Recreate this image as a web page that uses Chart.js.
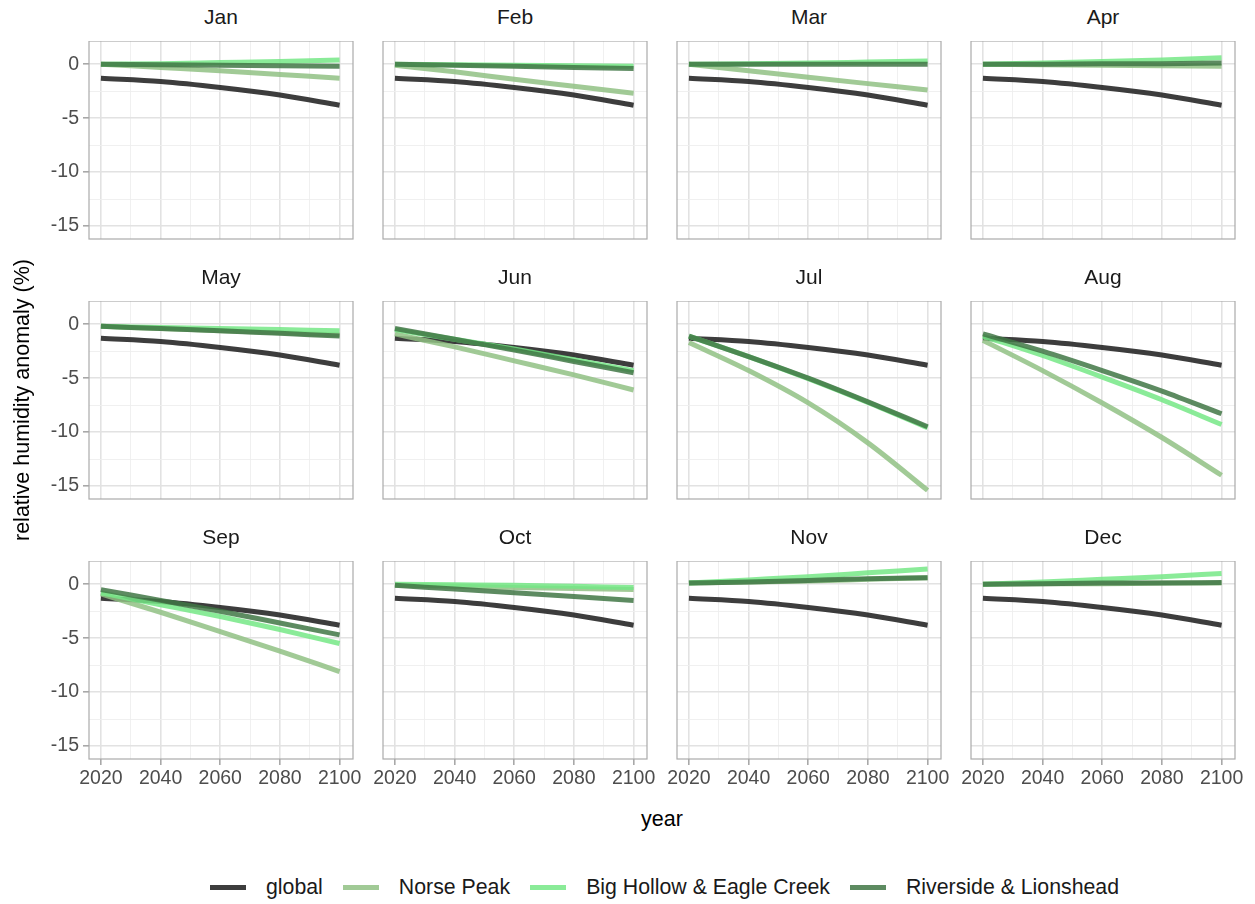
<!DOCTYPE html>
<html>
<head>
<meta charset="utf-8">
<script src="https://cdn.jsdelivr.net/npm/chart.js@4.4.1/dist/chart.umd.min.js"></script>
<style>
  body { margin: 0; background: #fff; font-family: "Liberation Sans", Arial, sans-serif; }
  #wrap { position: relative; width: 1255px; height: 904px; overflow: hidden; }
  #wrap canvas { position: absolute; }
  .strip { position: absolute; width: 264px; text-align: center; font-size: 21px; line-height: 24px; color: #1a1a1a; }
  .axtitle { position: absolute; font-size: 21.5px; line-height: 26px; color: #000; text-align: center; }
  #legend { position: absolute; left: 210px; top: 875px; display: flex; align-items: center; font-size: 21.3px; color: #1a1a1a; white-space: nowrap; }
  #legend .key { display: inline-block; width: 36px; height: 5px; margin-right: 20px; }
  #legend .item { display: flex; align-items: center; margin-right: 20px; }
</style>
</head>
<body>
<div id="wrap"></div>
<script>
// data
const years = [2020, 2040, 2060, 2080, 2100]
const months = ['Jan', 'Feb', 'Mar', 'Apr', 'May', 'Jun', 'Jul', 'Aug', 'Sep', 'Oct', 'Nov', 'Dec']
const seriesNames = ['global', 'Norse Peak', 'Big Hollow & Eagle Creek', 'Riverside & Lionshead']
const xTickLabels = [2020, 2040, 2060, 2080, 2100]
const yTickLabels = [-15, -10, -5, 0]
// major + minor grid positions
const xGridVals = [2020, 2030, 2040, 2050, 2060, 2070, 2080, 2090, 2100]
const yGridVals = [-15, -12.5, -10, -7.5, -5, -2.5, 0]

const globalVals = [-1.3, -1.6, -2.15, -2.85, -3.8]

const norsePeak = [
  [0, -0.3, -0.6, -0.95, -1.3],
  [-0.1, -0.7, -1.4, -2.05, -2.7],
  [0, -0.6, -1.2, -1.8, -2.4],
  [0, -0.05, -0.1, -0.15, -0.2],
  [-0.2, -0.4, -0.6, -0.8, -1.0],
  [-0.9, -2.1, -3.4, -4.7, -6.1],
  [-1.7, -4.3, -7.3, -11.0, -15.4],
  [-1.5, -4.3, -7.3, -10.5, -14.0],
  [-0.9, -2.6, -4.4, -6.2, -8.1],
  [-0.1, -0.2, -0.3, -0.4, -0.5],
  [0.1, 0.2, 0.3, 0.45, 0.6],
  [0, 0.05, 0.05, 0.1, 0.1]
]
const bigHollow = [
  [0, 0.05, 0.15, 0.25, 0.4],
  [0, -0.05, -0.1, -0.15, -0.2],
  [0, 0.05, 0.1, 0.2, 0.3],
  [0, 0.1, 0.25, 0.4, 0.6],
  [-0.2, -0.3, -0.4, -0.5, -0.6],
  [-0.5, -1.4, -2.3, -3.3, -4.3],
  [-1.1, -3.0, -5.05, -7.25, -9.6],
  [-1.1, -2.9, -4.9, -7.0, -9.3],
  [-0.8, -1.9, -3.0, -4.2, -5.5],
  [0, -0.05, -0.1, -0.2, -0.3],
  [0.1, 0.4, 0.7, 1.05, 1.4],
  [0, 0.2, 0.45, 0.7, 1.0]
]
const riverside = [
  [0, -0.05, -0.1, -0.15, -0.2],
  [0, -0.1, -0.2, -0.3, -0.4],
  [0, 0, 0, 0, 0],
  [0, 0, 0.05, 0.05, 0.1],
  [-0.2, -0.4, -0.6, -0.85, -1.1],
  [-0.4, -1.4, -2.4, -3.45, -4.5],
  [-1.1, -3.0, -5.0, -7.2, -9.5],
  [-0.9, -2.5, -4.3, -6.2, -8.3],
  [-0.5, -1.5, -2.5, -3.6, -4.7],
  [-0.1, -0.45, -0.8, -1.15, -1.5],
  [0.1, 0.2, 0.35, 0.5, 0.6],
  [0, 0.05, 0.1, 0.1, 0.15]
]

const colors = ['rgba(34,34,34,0.88)', 'rgba(144,193,132,0.85)', 'rgba(118,232,134,0.85)', 'rgba(65,119,69,0.85)']

// layout of the facet grid
const colLeft = [89, 383, 677, 971]
const rowTop = [41, 301, 561]
const panelW = 264, panelH = 198
const padL = 70, padB = 45, padR = 20
const fontFam = '"Liberation Sans", Arial, sans-serif'

const wrap = document.getElementById('wrap')

const panelBorder = {
  id: 'panelBorder',
  afterDraw(chart) {
    const a = chart.chartArea, c = chart.ctx
    c.save()
    c.strokeStyle = '#ababab'
    c.lineWidth = 1.2
    c.strokeRect(a.left, a.top, a.right - a.left, a.bottom - a.top)
    c.restore()
  }
}

function noPad(s) {
  s.paddingTop = 0
  s.paddingBottom = 0
  s.paddingLeft = 0
  s.paddingRight = 0
}

months.forEach(function(m, i) {
  const col = i % 4, row = Math.floor(i / 4)
  const showY = col === 0, showX = row === 2

  const strip = document.createElement('div')
  strip.className = 'strip'
  strip.style.left = colLeft[col] + 'px'
  strip.style.top = (rowTop[row] - 36) + 'px'
  strip.textContent = m
  wrap.appendChild(strip)

  const cv = document.createElement('canvas')
  cv.width = padL + panelW + padR
  cv.height = panelH + padB
  cv.style.left = (colLeft[col] - padL) + 'px'
  cv.style.top = rowTop[row] + 'px'
  wrap.appendChild(cv)

  const series = [globalVals, norsePeak[i], bigHollow[i], riverside[i]]
  const datasets = series.map(function(vals, k) {
    return {
      label: seriesNames[k],
      data: years.map((y, j) => ({ x: y, y: vals[j] })),
      borderColor: colors[k],
      borderWidth: 5,
      borderCapStyle: 'butt',
      pointRadius: 0,
      cubicInterpolationMode: 'monotone',
      order: 4 - k
    }
  })

  new Chart(cv, {
    type: 'line',
    data: { datasets },
    options: {
      responsive: false,
      animation: false,
      layout: { padding: { left: 0, top: 0, right: padR, bottom: 0 } },
      plugins: { legend: { display: false }, tooltip: { enabled: false } },
      scales: {
        x: {
          type: 'linear', min: 2016, max: 2104.5,
          afterBuildTicks: s => { s.ticks = xGridVals.map(v => ({ value: v })) },
          afterFit: s => { s.height = padB; noPad(s) },
          border: { display: false },
          grid: {
            color: c => xTickLabels.includes(c.tick.value) ? '#e2e2e2' : '#eeeeee',
            lineWidth: c => xTickLabels.includes(c.tick.value) ? 1.6 : 0.9,
            tickColor: c => (showX && xTickLabels.includes(c.tick.value)) ? '#a8a8a8' : 'transparent',
            tickLength: 6
          },
          ticks: {
            autoSkip: false, maxRotation: 0, minRotation: 0, padding: 2,
            color: showX ? '#4d4d4d' : 'transparent',
            font: { size: 19.5, family: fontFam },
            callback: v => xTickLabels.includes(v) ? String(v) : ''
          }
        },
        y: {
          type: 'linear', min: -16.2, max: 2.15,
          afterBuildTicks: s => { s.ticks = yGridVals.map(v => ({ value: v })) },
          afterFit: s => { s.width = padL; noPad(s) },
          border: { display: false },
          grid: {
            color: c => yTickLabels.includes(c.tick.value) ? '#e2e2e2' : '#eeeeee',
            lineWidth: c => yTickLabels.includes(c.tick.value) ? 1.6 : 0.9,
            tickColor: c => (showY && yTickLabels.includes(c.tick.value)) ? '#a8a8a8' : 'transparent',
            tickLength: 6
          },
          ticks: {
            autoSkip: false, padding: 4,
            color: showY ? '#4d4d4d' : 'transparent',
            font: { size: 19.5, family: fontFam },
            callback: v => yTickLabels.includes(v) ? String(v) : ''
          }
        }
      }
    },
    plugins: [panelBorder]
  })
})

// axis titles
const yt = document.createElement('div')
yt.className = 'axtitle'
yt.style.width = '400px'
yt.style.left = (22 - 200) + 'px'
yt.style.top = (400 - 13) + 'px'
yt.style.transform = 'rotate(-90deg)'
yt.textContent = 'relative humidity anomaly (%)'
wrap.appendChild(yt)

const xt = document.createElement('div')
xt.className = 'axtitle'
xt.style.width = '200px'
xt.style.left = (662 - 100) + 'px'
xt.style.top = (819 - 13) + 'px'
xt.textContent = 'year'
wrap.appendChild(xt)

// legend
const lg = document.createElement('div')
lg.id = 'legend'
seriesNames.forEach(function(n, k) {
  const it = document.createElement('div')
  it.className = 'item'
  const key = document.createElement('span')
  key.className = 'key'
  key.style.background = colors[k]
  it.appendChild(key)
  const tx = document.createElement('span')
  tx.textContent = n
  it.appendChild(tx)
  lg.appendChild(it)
})
wrap.appendChild(lg)
</script>
</body>
</html>
